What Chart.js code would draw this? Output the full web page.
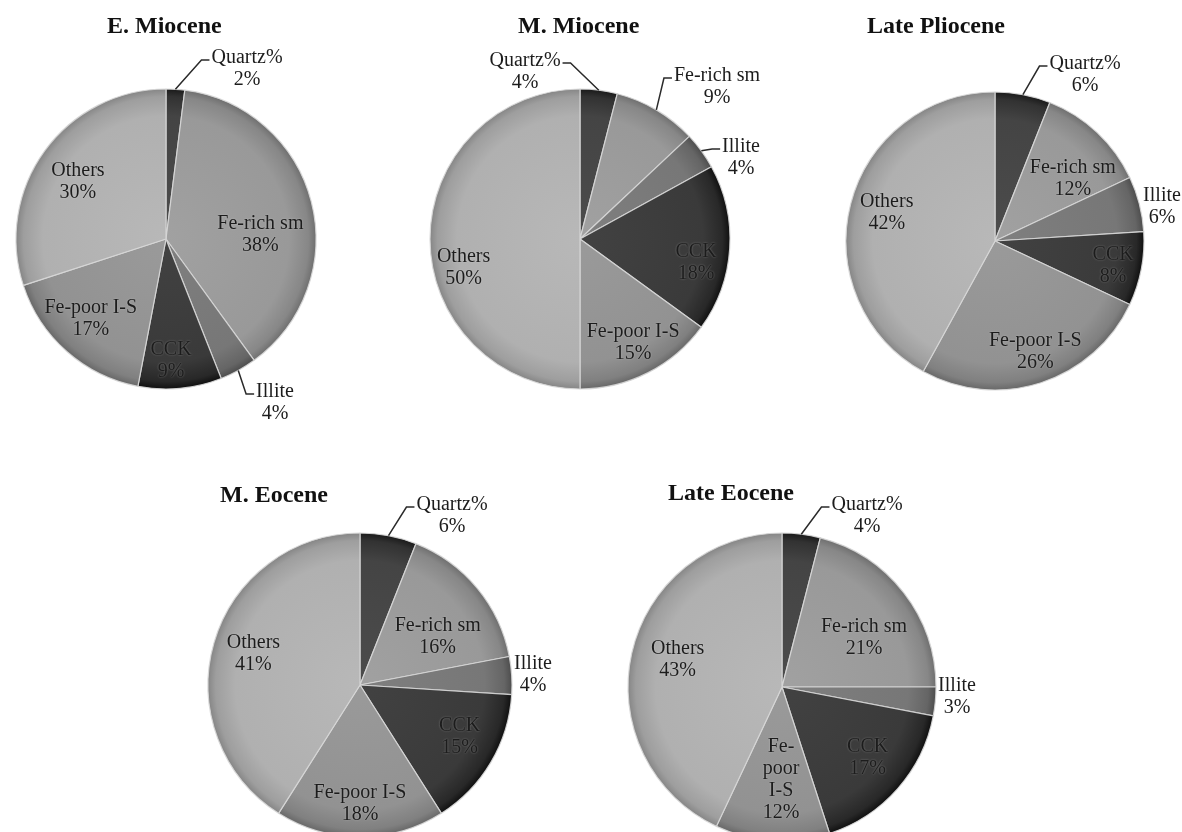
<!DOCTYPE html>
<html>
<head>
<meta charset="utf-8">
<script src="https://cdn.jsdelivr.net/npm/chart.js@4.4.1/dist/chart.umd.min.js"></script>
<style>
  html, body { margin: 0; padding: 0; background: #fff; }
  body { width: 1182px; height: 832px; position: relative; overflow: hidden; }
  .box { position: absolute; width: 420px; height: 420px; }
  .title { position: absolute; font: bold 24px "Liberation Serif", serif; line-height: 24px; color: #111; white-space: nowrap; z-index: 2; }
</style>
</head>
<body>
<script>
// categories, clockwise from 12 o'clock
const minerals = ['Quartz%', 'Fe-rich sm', 'Illite', 'CCK', 'Fe-poor I-S', 'Others'];

// percent of each mineral per epoch
const eMiocene     = [2, 38, 4, 9, 17, 30];
const mMiocene     = [4, 9, 4, 18, 15, 50];
const latePliocene = [6, 12, 6, 8, 26, 42];
const mEocene      = [6, 16, 4, 15, 18, 41];
const lateEocene   = [4, 21, 3, 17, 12, 43];

const sliceColors = ['#444444', '#999999', '#777777', '#3a3a3a', '#929292', '#b0b0b0'];

// where each pie sits and how its labels are placed
// d/da: inside label at fraction of radius (da = angle nudge in deg)
// dx/dy: outside label offset from pie centre, lead = draw leader line
const charts = [
  { title: 'E. Miocene', values: eMiocene, cx: 166, cy: 239, r: 150, tx: 107, ty: 13,
    place: [{dx: 81, dy: -170, lead: true}, {d: 0.63, da: 12}, {dx: 109, dy: 164, lead: true},
            {d: 0.81, da: 3}, {d: 0.73, da: 2}, {d: 0.7, da: -3}] },
  { title: 'M. Miocene', values: mMiocene, cx: 580, cy: 239, r: 150, tx: 518, ty: 13,
    place: [{dx: -55, dy: -167, lead: true}, {dx: 137, dy: -152, lead: true}, {dx: 161, dy: -81, lead: true},
            {d: 0.79, da: 8}, {d: 0.78, da: 0}, {d: 0.8, da: -14}] },
  { title: 'Late Pliocene', values: latePliocene, cx: 995, cy: 241, r: 149, tx: 867, ty: 13,
    place: [{dx: 90, dy: -166, lead: true}, {d: 0.67, da: 8}, {dx: 167, dy: -34},
            {d: 0.81, da: 1}, {d: 0.79, da: -2}, {d: 0.75, da: 0}] },
  { title: 'M. Eocene', values: mEocene, cx: 360, cy: 685, r: 152, tx: 220, ty: 482,
    place: [{dx: 92, dy: -169, lead: true}, {d: 0.6, da: 8}, {dx: 173, dy: -10},
            {d: 0.74, da: -3}, {d: 0.78, da: 0}, {d: 0.73, da: 0}] },
  { title: 'Late Eocene', values: lateEocene, cx: 782, cy: 687, r: 154, tx: 668, ty: 480,
    place: [{dx: 85, dy: -171, lead: true}, {d: 0.62, da: 7}, {dx: 175, dy: 10},
            {d: 0.72, da: -2}, {d: 0.6, da: -3, wrap: 45}, {d: 0.7, da: 2}] }
];

function shade(hex, amt) {
  const v = Math.max(0, Math.min(255, parseInt(hex.slice(1, 3), 16) + amt));
  return 'rgb(' + v + ',' + v + ',' + v + ')';
}

function wrap(c, text, maxW) {
  if (!maxW) return [text];
  const parts = text.split(/(?<=-)|\s+/);
  const lines = [];
  let cur = '';
  parts.forEach(p => {
    const joined = cur === '' ? p : (cur.endsWith('-') ? cur + p : cur + ' ' + p);
    if (cur !== '' && c.measureText(joined).width > maxW) { lines.push(cur); cur = p; }
    else cur = joined;
  });
  lines.push(cur);
  return lines;
}

const sliceLabels = {
  id: 'sliceLabels',
  afterDatasetsDraw(chart, args, opts) {
    const c = chart.ctx;
    const ds = chart.data.datasets[0];
    const total = ds.data.reduce((a, b) => a + b, 0);
    const lh = 22;
    c.save();
    c.font = '20px "Liberation Serif"';
    c.textAlign = 'center';
    c.textBaseline = 'middle';
    chart.getDatasetMeta(0).data.forEach((arc, i) => {
      const p = opts.place[i];
      const {x, y, startAngle, endAngle, outerRadius} =
        arc.getProps(['x', 'y', 'startAngle', 'endAngle', 'outerRadius'], true);
      const mid = (startAngle + endAngle) / 2;
      const lines = wrap(c, chart.data.labels[i], p.wrap)
        .concat(Math.round(ds.data[i] / total * 100) + '%');
      let tx, ty;
      if (p.d !== undefined) {
        const a = mid + (p.da || 0) * Math.PI / 180;
        tx = x + Math.cos(a) * p.d * outerRadius;
        ty = y + Math.sin(a) * p.d * outerRadius;
      } else {
        tx = x + p.dx;
        ty = y + p.dy;
      }
      const top = ty - (lines.length - 1) * lh / 2;
      if (p.lead) {
        const w = c.measureText(lines[0]).width;
        const ex = x + Math.cos(mid) * outerRadius;
        const ey = y + Math.sin(mid) * outerRadius;
        const right = tx > ex;
        const side = right ? tx - w / 2 : tx + w / 2;
        const dir = right ? -1 : 1;
        c.beginPath();
        c.moveTo(ex, ey);
        c.lineTo(side + dir * 10, top + 2);
        c.lineTo(side + dir * 2, top + 2);
        c.strokeStyle = '#2a2a2a';
        c.lineWidth = 1.5;
        c.stroke();
      }
      if (p.d !== undefined) {
        c.shadowColor = 'rgba(255,255,255,0.35)';
        c.shadowBlur = 2;
      } else {
        c.shadowColor = 'transparent';
      }
      c.fillStyle = '#1c1c1c';
      lines.forEach((t, k) => c.fillText(t, tx, top + k * lh));
    });
    c.restore();
  }
};

charts.forEach(cfg => {
  const box = document.createElement('div');
  box.className = 'box';
  box.style.left = (cfg.cx - 210) + 'px';
  box.style.top = (cfg.cy - 210) + 'px';
  const canvas = document.createElement('canvas');
  canvas.width = 420;
  canvas.height = 420;
  box.appendChild(canvas);
  document.body.appendChild(box);

  const t = document.createElement('div');
  t.className = 'title';
  t.textContent = cfg.title;
  t.style.left = cfg.tx + 'px';
  t.style.top = cfg.ty + 'px';
  document.body.appendChild(t);

  new Chart(canvas, {
    type: 'pie',
    data: {
      labels: minerals,
      datasets: [{
        data: cfg.values,
        radius: cfg.r,
        borderColor: 'rgba(215,215,215,0.9)',
        borderWidth: 1.2,
        backgroundColor: (ctx) => {
          const base = sliceColors[ctx.dataIndex];
          const area = ctx.chart.chartArea;
          if (!area) return base;
          const cx = (area.left + area.right) / 2, cy = (area.top + area.bottom) / 2;
          const g = ctx.chart.ctx.createRadialGradient(cx, cy, 0, cx, cy, cfg.r);
          g.addColorStop(0, shade(base, 8));
          g.addColorStop(0.82, base);
          g.addColorStop(0.95, shade(base, -18));
          g.addColorStop(1, shade(base, -42));
          return g;
        }
      }]
    },
    options: {
      responsive: false,
      devicePixelRatio: 1,
      animation: false,
      plugins: {
        legend: { display: false },
        tooltip: { enabled: false },
        sliceLabels: { place: cfg.place }
      }
    },
    plugins: [sliceLabels]
  });
});
</script>
</body>
</html>
